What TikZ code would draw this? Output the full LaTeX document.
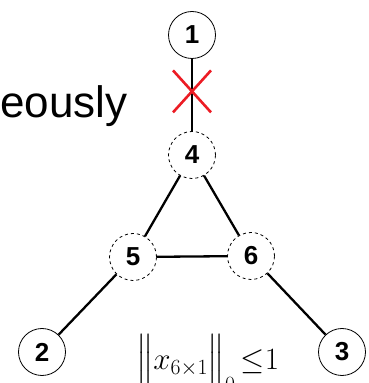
\RequirePackage{fix-cm}
\documentclass[tikz,border=0pt]{standalone}
\usepackage{amsmath, amssymb}
\usepackage{fontspec}
\setmainfont{Liberation Sans}
\usepackage{xcolor}
\usetikzlibrary{arrows.meta, positioning, calc}
\definecolor{cutred}{RGB}{236, 28, 36}

\begin{document}
\begin{tikzpicture}[x=1pt, y=1pt,
    vertex/.style={circle, draw, line width=0.8pt, minimum size=47pt, inner sep=0pt,
        font=\fontsize{26}{26}\selectfont\bfseries},
    hidden/.style={vertex, dashed},
    link/.style={line width=2.3pt}]
    \useasboundingbox (0,0) rectangle (369,383);
    \node[vertex] (n1) at (192,348) {1};
    \node[hidden] (n4) at (192,228) {4};
    \node[hidden] (n5) at (133,126) {5};
    \node[hidden] (n6) at (251,127) {6};
    \node[vertex] (n2) at (42,31) {2};
    \node[vertex] (n3) at (342,31) {3};
    \draw[link] (n1) -- (n4) coordinate[pos=0.45] (cut);
    \draw[link] (n4) -- (n5);
    \draw[link] (n4) -- (n6);
    \draw[link] (n5) -- (n6);
    \draw[link] (n5) -- (n2);
    \draw[link] (n6) -- (n3);
    % the removed link
    \draw[cutred, line width=2.6pt] ($(cut)+(-19,21)$) -- ($(cut)+(19,-21)$);
    \draw[cutred, line width=2.6pt] ($(cut)+(19,21)$) -- ($(cut)+(-19,-21)$);
    \node[anchor=base west, inner sep=0pt, font=\fontsize{44}{44}\selectfont] (txt) at (0,265) {eously};
    \node[anchor=base west, inner sep=0pt, font=\fontsize{31}{36}\selectfont] (norm) at (136,13)
        {$\Bigl\| x_{6\times 1}\Bigr\|_0\,{\le}1$};
\end{tikzpicture}
\end{document}
